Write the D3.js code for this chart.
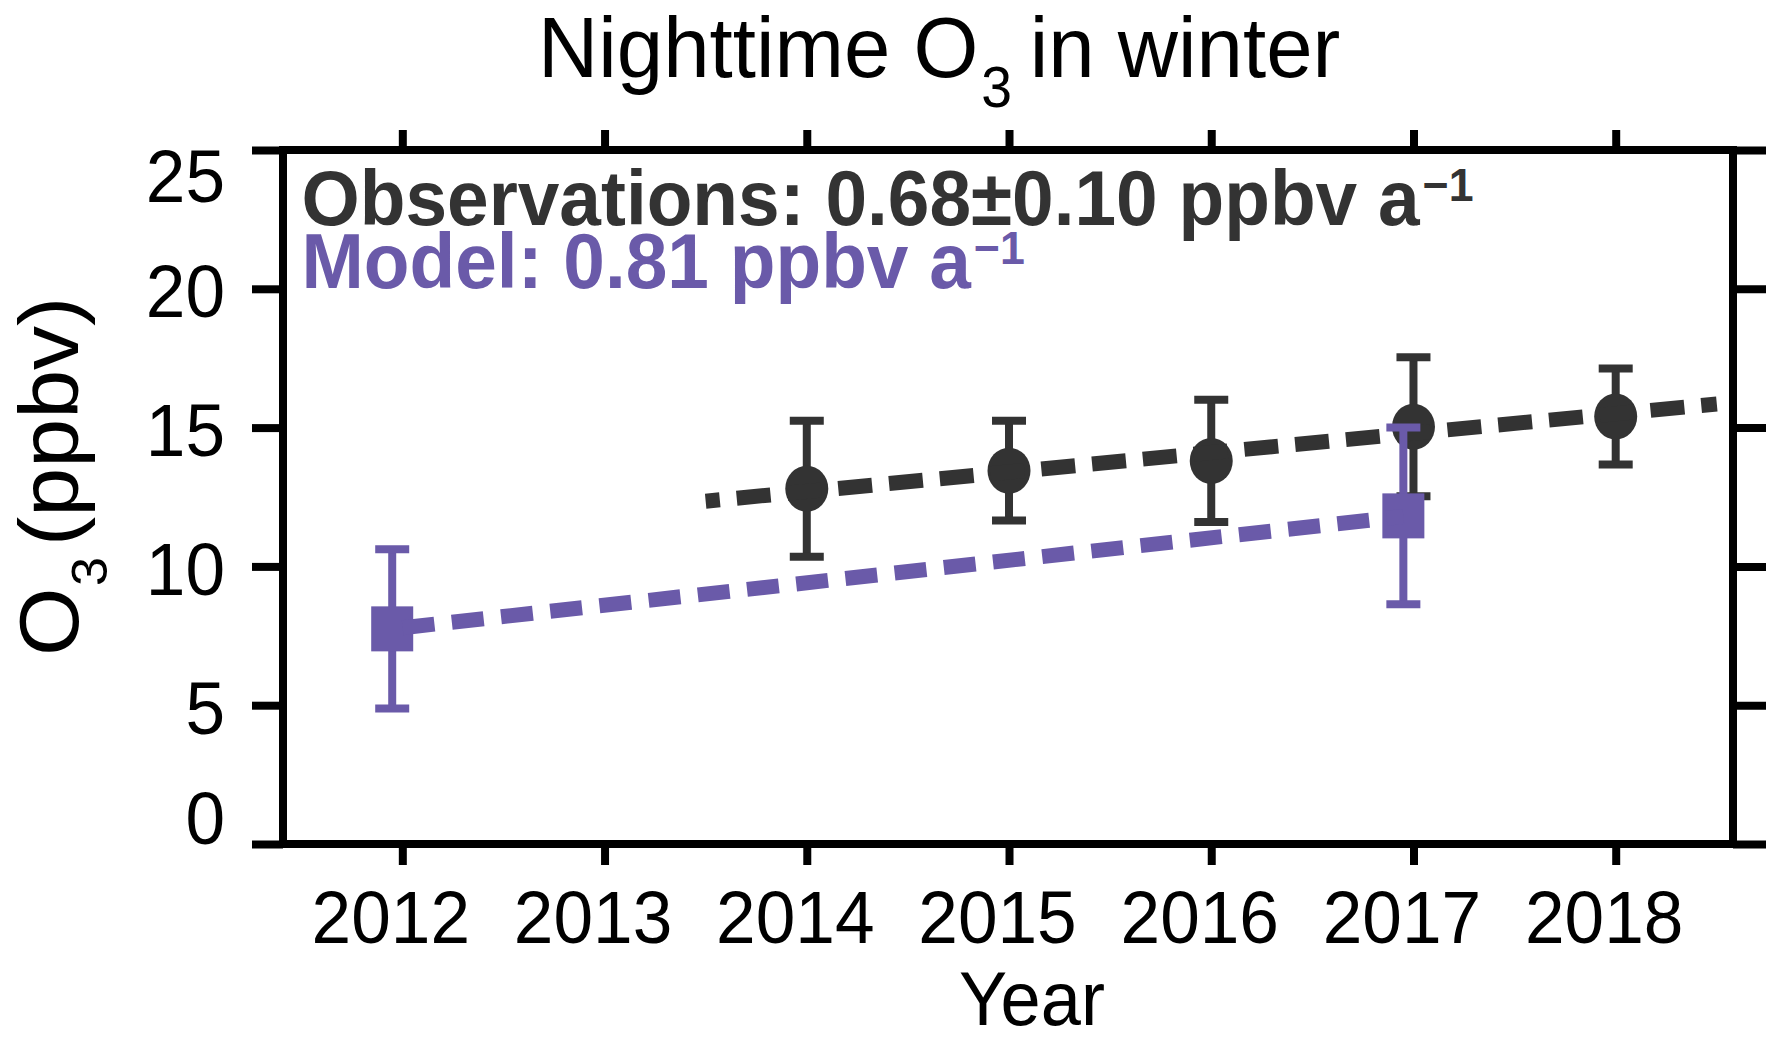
<!DOCTYPE html>
<html><head><meta charset="utf-8">
<script src="https://cdn.jsdelivr.net/npm/d3@7"></script>
<style>
html,body{margin:0;padding:0;background:#fff;}
svg{display:block;font-family:"Liberation Sans",Arial,Helvetica,sans-serif;}
</style></head><body>
<svg id="chart" width="1781" height="1041"></svg>
<script>
// ---- data ----
const obsYears = [2014, 2015, 2016, 2017, 2018];
const obsValues = [12.8, 13.45, 13.8, 15.03, 15.4];
const obsErrors = [2.45, 1.8, 2.2, 2.5, 1.73];
const modelYears = [2011.95, 2016.95];
const modelValues = [7.75, 11.82];
const modelErrors = [2.87, 3.18];
const obsTrendYears = [2013.5, 2018.5];
const obsTrendValues = [12.35, 15.85];
const modelTrendYears = [2011.95, 2016.95];
const modelTrendValues = [7.75, 11.8];
const xTickValues = [2012, 2013, 2014, 2015, 2016, 2017, 2018];
const yTickValues = [0, 5, 10, 15, 20, 25];
const obsLabel = "Observations: 0.68\u00B10.10 ppbv a";
const modelLabel = "Model: 0.81 ppbv a";
const unitSup = "\u22121";

const OBS = "#333333", MOD = "#6a5aa9";
const SX = 0.95;
const svg = d3.select("#chart");
const L = 283, R = 1733, T = 150, B = 844;
const x = d3.scaleLinear().domain([2011.41, 2018.58]).range([L, R]);
const y = d3.scaleLinear().domain([0, 25]).range([B, T]);

// ---- axes ----
function styleAxis(g) {
  g.select(".domain").remove();
  g.selectAll(".tick line").attr("stroke", "#000").attr("stroke-width", 8);
  g.selectAll(".tick text").attr("fill", "#000");
}
const gB = svg.append("g").attr("transform", `translate(0,${B})`)
  .call(d3.axisBottom(x).tickValues(xTickValues).tickFormat(d3.format("d")).tickSizeInner(21).tickSizeOuter(0));
styleAxis(gB);
gB.selectAll(".tick text").attr("font-size", 75).attr("y", 99).attr("dy", 0)
  .attr("x", -12 / SX).attr("transform", `scale(${SX},1)`);

const gT = svg.append("g").attr("transform", `translate(0,${T})`)
  .call(d3.axisTop(x).tickValues(xTickValues).tickFormat("").tickSizeInner(20).tickSizeOuter(0));
styleAxis(gT);

const gL = svg.append("g").attr("transform", `translate(${L},0)`)
  .call(d3.axisLeft(y).tickValues(yTickValues).tickFormat(d3.format("d")).tickSizeInner(31).tickSizeOuter(0));
styleAxis(gL);
gL.selectAll(".tick text").attr("font-size", 75).attr("x", -58 / SX)
  .attr("dy", d => d === 25 ? "51px" : (d === 0 ? "-1px" : "28px"))
  .attr("transform", `scale(${SX},1)`);

const gR = svg.append("g").attr("transform", `translate(${R},0)`)
  .call(d3.axisRight(y).tickValues(yTickValues).tickFormat("").tickSizeInner(33).tickSizeOuter(0));
styleAxis(gR);

svg.append("rect").attr("x", L).attr("y", T).attr("width", R - L).attr("height", B - T)
  .attr("fill", "none").attr("stroke", "#000").attr("stroke-width", 8);

// ---- observations ----
const obs = obsYears.map((yr, i) => ({yr, v: obsValues[i], e: obsErrors[i]}));
const mod = modelYears.map((yr, i) => ({yr, v: modelValues[i], e: modelErrors[i]}));

function drawErr(data, color) {
  const g = svg.append("g");
  g.selectAll("line.v").data(data).enter().append("line")
    .attr("x1", d => x(d.yr)).attr("x2", d => x(d.yr))
    .attr("y1", d => y(d.v - d.e)).attr("y2", d => y(d.v + d.e))
    .attr("stroke", color).attr("stroke-width", 8);
  [-1, 1].forEach(s => {
    g.selectAll("line.c" + s).data(data).enter().append("line")
      .attr("x1", d => x(d.yr) - 17).attr("x2", d => x(d.yr) + 17)
      .attr("y1", d => y(d.v + s * d.e)).attr("y2", d => y(d.v + s * d.e))
      .attr("stroke", color).attr("stroke-width", 8);
  });
}
const line = d3.line().x(d => x(d[0])).y(d => y(d[1]));

drawErr(obs, OBS);
svg.append("g").selectAll("ellipse").data(obs).enter().append("ellipse")
  .attr("cx", d => x(d.yr)).attr("cy", d => y(d.v)).attr("rx", 21.5).attr("ry", 23)
  .attr("fill", OBS);
svg.append("path").datum(obsTrendYears.map((yr, i) => [yr, obsTrendValues[i]]))
  .attr("d", line).attr("fill", "none").attr("stroke", OBS).attr("stroke-width", 15)
  .attr("stroke-dasharray", "34 17").attr("stroke-dashoffset", 19.8);

// ---- model ----
drawErr(mod, MOD);
svg.append("g").selectAll("rect").data(mod).enter().append("rect")
  .attr("x", d => x(d.yr) - 21).attr("y", d => y(d.v) - 22.5).attr("width", 42).attr("height", 45)
  .attr("fill", MOD);
svg.append("path").datum(modelTrendYears.map((yr, i) => [yr, modelTrendValues[i]]))
  .attr("d", line).attr("fill", "none").attr("stroke", MOD).attr("stroke-width", 15)
  .attr("stroke-dasharray", "32 17.5").attr("stroke-dashoffset", 39);

// ---- legend text ----
function legend(txt, color, baseY) {
  const t = svg.append("text").attr("transform", `translate(301.5,${baseY}) scale(0.972,1)`)
    .attr("font-size", 77).attr("font-weight", "bold").attr("fill", color);
  t.append("tspan").text(txt);
  t.append("tspan").attr("font-size", 46).attr("dx", 3).attr("dy", -24).text(unitSup);
}
legend(obsLabel, OBS, 225);
legend(modelLabel, MOD, 288);

// ---- title ----
const title = svg.append("text").attr("transform", `translate(538,77) scale(0.97,1)`)
  .attr("font-size", 86).attr("fill", "#000");
title.append("tspan").attr("x", 0).attr("y", 0).text("Nighttime O");
title.append("tspan").attr("x", 457).attr("y", 30).attr("font-size", 57).text("3");
title.append("tspan").attr("x", 507).attr("y", 0).text("in winter");

// ---- axis labels ----
svg.append("text").attr("transform", `translate(1032,1025) scale(${SX},1)`)
  .attr("text-anchor", "middle").attr("font-size", 76).attr("fill", "#000").text("Year");

const yl = svg.append("text").attr("transform", `translate(78,656) rotate(-90) scale(1,${SX})`)
  .attr("font-size", 88).attr("fill", "#000");
yl.append("tspan").attr("x", 0).attr("y", 0).text("O");
yl.append("tspan").attr("x", 70).attr("y", 30).attr("font-size", 52).text("3");
yl.append("tspan").attr("x", 110).attr("y", 0).text("(ppbv)");
</script>
</body></html>
